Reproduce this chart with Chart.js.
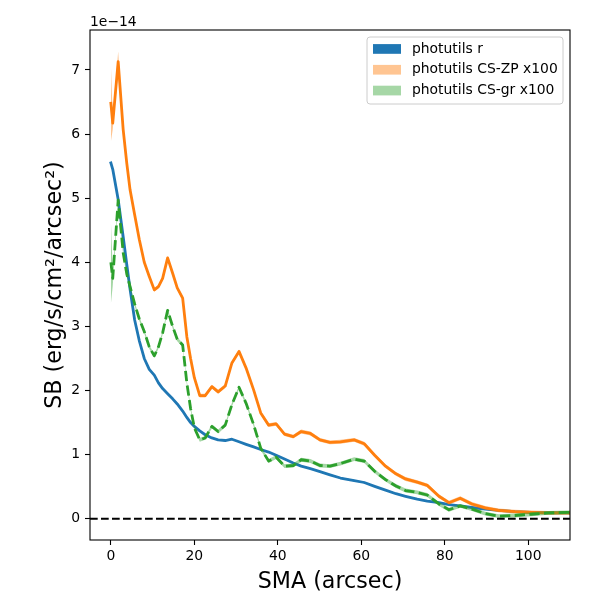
<!DOCTYPE html>
<html>
<head>
<meta charset="utf-8">
<script src="https://cdn.jsdelivr.net/npm/chart.js@4.4.1/dist/chart.umd.min.js"></script>
<style>
  html, body { margin: 0; padding: 0; background: #fff; }
  #wrap { width: 600px; height: 600px; }
</style>
</head>
<body>
<div id="wrap"><canvas id="sb-chart"></canvas></div>
<script>
// semi-major axis of the isophotes (arcsec)
const sma = [0, 0.45, 1.75, 2.95, 3.8, 4.6, 5.7, 6.8, 8.0, 9.2,
  10.4, 11.4, 12.4, 13.6, 14.8, 15.9, 17.2, 18.2, 19.1, 20.0,
  21.3, 22.6, 24.2, 25.7, 27.4, 29.0, 30.7, 32.4, 34.2, 35.9,
  37.8, 39.6, 41.6, 43.7, 45.6, 47.8, 50.1, 52.5, 55.0, 58.3,
  60.7, 63.2, 65.8, 68.3, 70.6, 73.4, 75.8, 78.6, 81.0, 83.7,
  86.5, 89.7, 92.9, 96.8, 100.7, 104.8, 109.5, 114.0];

// surface brightness, in units of 1e-14 erg/s/cm2/arcsec2
const sbR = [5.55, 5.45, 4.98, 4.40, 3.97, 3.58, 3.10, 2.78, 2.50, 2.33,
  2.24, 2.12, 2.03, 1.95, 1.87, 1.79, 1.68, 1.58, 1.50, 1.44,
  1.37, 1.31, 1.26, 1.23, 1.22, 1.24, 1.20, 1.16, 1.12, 1.08,
  1.04, 0.99, 0.93, 0.87, 0.82, 0.78, 0.735, 0.685, 0.635, 0.595,
  0.565, 0.505, 0.446, 0.39, 0.35, 0.305, 0.275, 0.25, 0.22, 0.20,
  0.175, 0.15, 0.13, 0.11, 0.10, 0.09, 0.09, 0.09];
const errR = [0.05, 0.02, 0.01, 0.01, 0.01, 0.01, 0.01, 0.01, 0.01, 0.01,
  0.01, 0.01, 0.01, 0.01, 0.01, 0.01, 0.01, 0.01, 0.01, 0.01,
  0.01, 0.01, 0.01, 0.01, 0.01, 0.01, 0.01, 0.01, 0.01, 0.01,
  0.01, 0.01, 0.01, 0.01, 0.01, 0.01, 0.01, 0.01, 0.01, 0.01,
  0.01, 0.01, 0.01, 0.01, 0.01, 0.01, 0.01, 0.01, 0.01, 0.01,
  0.01, 0.01, 0.01, 0.01, 0.01, 0.01, 0.01, 0.01];

const sbZP = [6.48, 6.17, 7.13, 6.07, 5.55, 5.13, 4.74, 4.36, 4.00, 3.78,
  3.57, 3.62, 3.75, 4.07, 3.83, 3.60, 3.44, 2.84, 2.50, 2.20,
  1.92, 1.92, 2.06, 1.98, 2.07, 2.43, 2.61, 2.35, 2.01, 1.65,
  1.46, 1.48, 1.32, 1.28, 1.36, 1.33, 1.23, 1.19, 1.20, 1.23,
  1.17, 0.99, 0.82, 0.70, 0.62, 0.57, 0.52, 0.35, 0.25, 0.32,
  0.23, 0.17, 0.13, 0.11, 0.10, 0.09, 0.09, 0.08];
const errZP = [0.60, 0.10, 0.16, 0.06, 0.05, 0.04, 0.04, 0.04, 0.03, 0.03,
  0.03, 0.03, 0.03, 0.03, 0.03, 0.03, 0.03, 0.03, 0.03, 0.03,
  0.03, 0.03, 0.03, 0.03, 0.03, 0.03, 0.03, 0.03, 0.03, 0.03,
  0.03, 0.03, 0.03, 0.03, 0.03, 0.03, 0.03, 0.03, 0.03, 0.03,
  0.03, 0.03, 0.03, 0.03, 0.03, 0.03, 0.03, 0.03, 0.03, 0.03,
  0.03, 0.03, 0.03, 0.03, 0.03, 0.03, 0.03, 0.03];

const sbGR = [4.00, 3.75, 4.97, 4.15, 3.82, 3.62, 3.35, 3.12, 2.92, 2.68,
  2.54, 2.68, 2.90, 3.25, 3.00, 2.80, 2.71, 2.12, 1.72, 1.42,
  1.23, 1.26, 1.44, 1.36, 1.46, 1.78, 2.05, 1.80, 1.47, 1.10,
  0.90, 0.96, 0.82, 0.83, 0.92, 0.90, 0.83, 0.82, 0.86, 0.93,
  0.90, 0.74, 0.61, 0.51, 0.44, 0.41, 0.37, 0.23, 0.14, 0.20,
  0.15, 0.08, 0.04, 0.05, 0.07, 0.09, 0.10, 0.10];
const errGR = [0.65, 0.12, 0.06, 0.04, 0.03, 0.03, 0.03, 0.03, 0.03, 0.03,
  0.03, 0.03, 0.03, 0.03, 0.03, 0.03, 0.03, 0.03, 0.03, 0.03,
  0.03, 0.03, 0.03, 0.03, 0.03, 0.03, 0.03, 0.03, 0.03, 0.03,
  0.03, 0.03, 0.03, 0.03, 0.03, 0.03, 0.03, 0.03, 0.03, 0.03,
  0.03, 0.03, 0.03, 0.03, 0.03, 0.03, 0.03, 0.03, 0.03, 0.03,
  0.03, 0.03, 0.03, 0.03, 0.03, 0.03, 0.03, 0.03];

const xTicks = [0, 20, 40, 60, 80, 100];
const yTicks = [0, 1, 2, 3, 4, 5, 6, 7];
const legendLabels = ['photutils r', 'photutils CS-ZP x100', 'photutils CS-gr x100'];

const C_BLUE = '#1f77b4', C_ORANGE = '#ff7f0e', C_GREEN = '#2ca02c';
const BAND_BLUE = '#1f77b4', BAND_ORANGE = 'rgba(255,127,14,0.45)', BAND_GREEN = 'rgba(44,160,44,0.42)';
const FONT = "'DejaVu Sans', 'Liberation Sans', sans-serif";

function pts(vals) {
    return sma.map(function(x, i){ return {x: x, y: vals[i]}; });
}
function shifted(vals, errs, sign) {
    return pts(vals.map(function(v, i){ return v + sign * errs[i]; }));
}

// each profile: lower edge, upper edge (filled to lower), then the line
function profile(vals, errs, lineColor, bandColor, dash) {
    return [
        {data: shifted(vals, errs, -1), borderWidth: 0, pointRadius: 0, fill: false},
        {data: shifted(vals, errs, 1), borderWidth: 0, pointRadius: 0, fill: '-1', backgroundColor: bandColor},
        {data: pts(vals), borderColor: lineColor, borderWidth: 2.8, pointRadius: 0, fill: false,
         borderDash: dash, borderJoinStyle: 'round', borderCapStyle: dash.length ? 'butt' : 'square'}
    ];
}

let datasets = [].concat(
    profile(sbR, errR, C_BLUE, BAND_BLUE, []),
    profile(sbZP, errZP, C_ORANGE, BAND_ORANGE, []),
    profile(sbGR, errGR, C_GREEN, BAND_GREEN, [10.3, 4.4])
);
// later datasets on top, like matplotlib
datasets.forEach(function(d, i){ d.order = datasets.length - i; d.tension = 0; });

const extras = {
    id: 'extras',
    afterDatasetsDraw(chart) {
        const ctx = chart.ctx, a = chart.chartArea;
        const y0 = chart.scales.y.getPixelForValue(0);
        ctx.save();
        ctx.strokeStyle = '#000';
        ctx.lineWidth = 2.1;
        ctx.setLineDash([7.7, 3.3]);
        ctx.beginPath();
        ctx.moveTo(a.left, y0);
        ctx.lineTo(a.right, y0);
        ctx.stroke();
        ctx.restore();
    },
    afterDraw(chart) {
        const ctx = chart.ctx, a = chart.chartArea;
        ctx.save();
        // axes frame
        ctx.strokeStyle = '#000';
        ctx.lineWidth = 1.1;
        ctx.strokeRect(a.left, a.top, a.right - a.left, a.bottom - a.top);
        // offset text
        ctx.fillStyle = '#000';
        ctx.font = '13.9px ' + FONT;
        ctx.textBaseline = 'alphabetic';
        ctx.textAlign = 'left';
        ctx.fillText('1e\u221214', a.left, a.top - 3.8);
        // legend
        const bx = a.right - 203, by = a.top + 7, bw = 196, bh = 67;
        ctx.beginPath();
        ctx.roundRect(bx, by, bw, bh, 3);
        ctx.fillStyle = 'rgba(255,255,255,0.8)';
        ctx.fill();
        ctx.strokeStyle = '#cccccc';
        ctx.lineWidth = 1;
        ctx.stroke();
        const swatches = [BAND_BLUE, BAND_ORANGE, BAND_GREEN];
        legendLabels.forEach(function(txt, i){
            const cy = by + 12 + i * 20.8;
            ctx.fillStyle = swatches[i];
            ctx.fillRect(bx + 6, cy - 4.9, 28, 9.7);
            ctx.fillStyle = '#000';
            ctx.textBaseline = 'middle';
            ctx.fillText(txt, bx + 45, cy);
        });
        ctx.restore();
    }
};

new Chart(document.getElementById('sb-chart'), {
    type: 'line',
    data: {datasets: datasets},
    options: {
        responsive: true,
        maintainAspectRatio: false,
        animation: false,
        layout: {padding: {top: 30, right: 30, left: 0, bottom: 0}},
        plugins: {legend: {display: false}, tooltip: {enabled: false}},
        scales: {
            x: {
                type: 'linear',
                min: -5,
                max: 110,
                afterFit: function(s){ s.height = 60; },
                afterBuildTicks: function(s){ s.ticks = xTicks.map(function(v){ return {value: v}; }); },
                grid: {display: true, drawOnChartArea: false, drawTicks: true, tickLength: 5, tickWidth: 1.1, tickColor: '#000'},
                border: {display: false},
                ticks: {color: '#000', padding: 3, font: {family: FONT, size: 13.9}, maxRotation: 0,
                        callback: function(v){ return String(v); }},
                title: {display: true, text: 'SMA (arcsec)', color: '#000', font: {family: FONT, size: 22.2},
                        padding: {top: 0, bottom: 4.5}}
            },
            y: {
                type: 'linear',
                min: -0.332,
                max: 7.624,
                afterFit: function(s){ s.width = 90; },
                afterBuildTicks: function(s){ s.ticks = yTicks.map(function(v){ return {value: v}; }); },
                grid: {display: true, drawOnChartArea: false, drawTicks: true, tickLength: 5, tickWidth: 1.1, tickColor: '#000'},
                border: {display: false},
                ticks: {color: '#000', padding: 5, font: {family: FONT, size: 13.9},
                        callback: function(v){ return String(v); }},
                title: {display: true, text: 'SB (erg/s/cm\u00b2/arcsec\u00b2)', color: '#000', font: {family: FONT, size: 22.2},
                        padding: {top: 42, bottom: 0}}
            }
        }
    },
    plugins: [extras]
});
</script>
</body>
</html>
